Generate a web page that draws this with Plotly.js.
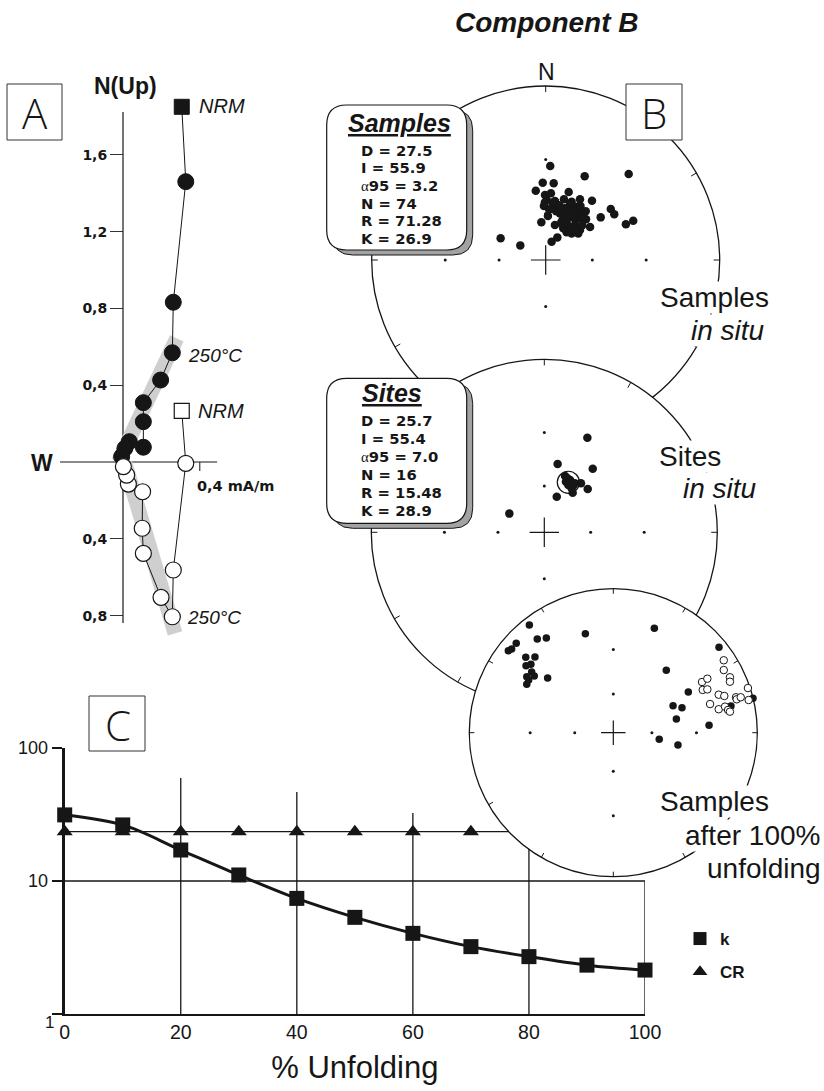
<!DOCTYPE html>
<html><head><meta charset="utf-8">
<script src="https://cdn.plot.ly/plotly-3.0.1.min.js"></script>
<style>html,body{margin:0;padding:0;background:#fff}#chart{width:824px;height:1091px}</style>
</head><body><div id="chart"></div>
<script>
// ================= DATA =================
// Panel A – Zijderveld diagram (mA/m)
const horizE  = [0.306, 0.327, 0.262, 0.257, 0.196, 0.106, 0.106, 0.106, 0.033, 0.010, -0.007];
const horizN  = [1.85, 1.46, 0.832, 0.569, 0.427, 0.309, 0.210, 0.077, 0.106, 0.071, 0.028];
const vertE   = [0.306, 0.327, 0.262, 0.257, 0.198, 0.106, 0.100, 0.102, 0.028, 0.019, 0.002];
const vertUp  = [0.266, -0.007, -0.5625, -0.806, -0.705, -0.476, -0.345, -0.155, -0.115, -0.068, -0.024];
const fitHorizE = [-0.024, 0.280], fitHorizN = [0.0, 0.644];
const fitVertE  = [0.010, 0.271],  fitVertUp = [-0.007, -0.892];
const zijTickVals = [-0.8, -0.4, 0.4, 0.8, 1.2, 1.6];
const zijTickText = ['0,8', '0,4', '0,4', '0,8', '1,2', '1,6'];

// Panel C – fold test
const unfoldPct = [0, 10, 20, 30, 40, 50, 60, 70, 80, 90, 100];
const kValues   = [31.4, 26.4, 17.1, 11.1, 7.4, 5.33, 4.04, 3.21, 2.70, 2.33, 2.14];
const crValues  = [23.5, 23.5, 23.5, 23.5, 23.5, 23.5, 23.5, 23.5, 23.5, 23.5, 23.5];
const gridPct   = [20, 40, 60, 80];
const gridTop   = [59.5, 46.7, 32.5, 24];
const xTicks    = [0, 20, 40, 60, 80, 100];

// Panel B – stereonets (projected coordinates, unit = net radius; E, N)
const samplesE = [0.026,0.224,0.477,-0.017,0.046,-0.057,0.132,-0.004,0.030,0.006,0.053,0.105,0.197,0.266,-0.010,0.034,0.072,0.149,0.092,0.140,0.178,0.207,0.374,0.394,0.316,0.013,-0.025,0.053,0.101,0.121,0.159,0.197,0.232,0.101,0.149,0.197,0.255,0.149,0.187,0.461,0.503,0.067,0.034,-0.259,-0.146,0.082,0.130,0.168,0.111,0.168,0.120,0.140,0.170,0.185,0.130,0.110,0.155,0.180,0.090,0.160,0.210,0.120,0.060,0.040,0.020,0.200,0.175,0.080,0.230,0.140,0.100,0.215,-0.005];
const samplesN = [0.540,0.481,0.494,0.444,0.441,0.398,0.391,0.374,0.383,0.345,0.339,0.349,0.349,0.341,0.310,0.297,0.316,0.335,0.278,0.297,0.306,0.278,0.293,0.263,0.245,0.253,0.217,0.201,0.240,0.211,0.249,0.240,0.234,0.182,0.172,0.172,0.190,0.153,0.153,0.205,0.226,0.130,0.105,0.125,0.084,0.268,0.268,0.268,0.297,0.201,0.230,0.250,0.230,0.190,0.190,0.260,0.280,0.250,0.220,0.185,0.200,0.160,0.280,0.330,0.290,0.310,0.165,0.310,0.280,0.320,0.200,0.245,0.330];
const sitesE = [0.249,0.077,0.280,0.133,0.125,0.139,0.149,0.212,0.177,0.164,0.251,0.072,-0.202,0.158,0.120,0.166];
const sitesN = [0.547,0.395,0.368,0.312,0.292,0.273,0.302,0.283,0.283,0.229,0.250,0.206,0.108,0.254,0.325,0.268];
const sitesMeanE = 0.139, sitesMeanN = 0.289, sitesA95 = 0.064;
const unfoldFillE = [-0.583,-0.194,-0.528,-0.465,-0.674,-0.706,-0.729,-0.608,-0.544,-0.572,-0.606,-0.567,-0.549,-0.601,-0.588,-0.601,-0.456,0.285,0.734,0.368,0.521,0.415,0.477,0.438,0.665,0.319,0.449,0.817,0.970];
const unfoldFillN = [0.748,0.688,0.651,0.658,0.621,0.581,0.569,0.524,0.526,0.475,0.465,0.422,0.394,0.389,0.366,0.336,0.380,0.725,0.593,0.433,0.283,0.188,0.174,0.095,0.051,-0.046,-0.085,0.185,0.239];
const unfoldOpenE = [0.767,0.767,0.616,0.653,0.621,0.653,0.810,0.810,0.935,0.732,0.771,0.672,0.732,0.776,0.797,0.810,0.852,0.857,0.885,0.940];
const unfoldOpenN = [0.503,0.435,0.352,0.375,0.297,0.301,0.385,0.354,0.310,0.264,0.255,0.199,0.163,0.181,0.158,0.146,0.246,0.232,0.246,0.227];

const samplesStats = ['D = 27.5', 'I = 55.9', 'α95 = 3.2', 'N = 74', 'R = 71.28', 'K = 26.9'];
const sitesStats   = ['D = 25.7', 'I = 55.4', 'α95 = 7.0', 'N = 16', 'R = 15.48', 'K = 28.9'];

// ================= LAYOUT HELPERS =================
const W = 824, H = 1091;
const INK = '#161616';
const FONT = 'Liberation Sans, Arial, Helvetica, sans-serif';
const BOLDF = 'DejaVu Sans, Verdana, sans-serif';
function xdom(a, b) { return [a / W, b / W]; }
function ydom(top, bottom) { return [1 - bottom / H, 1 - top / H]; }

const traces = [];
const shapes = [];
const annotations = [];
function ann(x, y, text, font, extra) {
  annotations.push(Object.assign({xref: 'x6', yref: 'y6', x: x, y: y, text: text, showarrow: false,
    xanchor: 'center', yanchor: 'middle', font: Object.assign({family: FONT, color: INK}, font)}, extra || {}));
}

// ================= PANEL C =================
const lineStyle = {color: INK, width: 1.3};
traces.push({x: [0, 100], y: [10, 10], xaxis: 'x', yaxis: 'y', mode: 'lines', line: lineStyle, showlegend: false, hoverinfo: 'skip'});
traces.push({x: [100, 100], y: [1, 10], xaxis: 'x', yaxis: 'y', mode: 'lines', line: lineStyle, showlegend: false, hoverinfo: 'skip'});
const gx = [], gy = [];
gridPct.forEach((p, i) => { gx.push(p, p, null); gy.push(1, gridTop[i], null); });
traces.push({x: gx, y: gy, xaxis: 'x', yaxis: 'y', mode: 'lines', line: lineStyle, showlegend: false, hoverinfo: 'skip'});
traces.push({x: unfoldPct, y: crValues, xaxis: 'x', yaxis: 'y', mode: 'lines+markers', cliponaxis: false,
  line: {color: INK, width: 1.3}, marker: {symbol: 'triangle-up', size: 14, color: INK, opacity: 1}, showlegend: false});
traces.push({x: unfoldPct, y: kValues, xaxis: 'x', yaxis: 'y', mode: 'lines+markers', cliponaxis: false,
  line: {color: INK, width: 3, shape: 'spline', smoothing: 1}, marker: {symbol: 'square', size: 15, color: INK, opacity: 1}, showlegend: false});
traces.push({x: [null], y: [null], xaxis: 'x', yaxis: 'y', name: 'k', legendgroup: 'k', mode: 'markers',
  marker: {symbol: 'square', size: 13, color: INK}});
traces.push({x: [null], y: [null], xaxis: 'x', yaxis: 'y', name: 'CR', legendgroup: 'cr', mode: 'markers',
  marker: {symbol: 'triangle-up', size: 13, color: INK}});

// ================= PANEL A =================
traces.push({x: fitHorizE, y: fitHorizN, xaxis: 'x2', yaxis: 'y2', mode: 'lines', line: {color: '#cfcfcf', width: 15}, showlegend: false, hoverinfo: 'skip'});
traces.push({x: fitVertE, y: fitVertUp, xaxis: 'x2', yaxis: 'y2', mode: 'lines', line: {color: '#cfcfcf', width: 15}, showlegend: false, hoverinfo: 'skip'});
const symA = horizE.map((v, i) => i === 0 ? 'square' : 'circle');
const sizeA = horizE.map((v, i) => i === 0 ? 15 : 16);
traces.push({x: horizE, y: horizN, xaxis: 'x2', yaxis: 'y2', mode: 'lines+markers', cliponaxis: false,
  line: {color: INK, width: 1}, marker: {symbol: symA, size: sizeA, color: INK, opacity: 1, line: {color: INK, width: 1}}, showlegend: false});
traces.push({x: vertE, y: vertUp, xaxis: 'x2', yaxis: 'y2', mode: 'lines+markers', cliponaxis: false,
  line: {color: INK, width: 1}, marker: {symbol: symA, size: sizeA, color: '#fff', opacity: 1, line: {color: INK, width: 1.2}}, showlegend: false});
// partial axes of the Zijderveld diagram
shapes.push({type: 'line', xref: 'x2', yref: 'y2', x0: 0, x1: 0, y0: -0.839, y1: 1.823, line: {color: INK, width: 1.2}, layer: 'below'});
shapes.push({type: 'line', xref: 'x2', yref: 'y2', x0: -0.328, x1: 0.49, y0: 0, y1: 0, line: {color: INK, width: 1.2}, layer: 'below'});
shapes.push({type: 'line', xref: 'x2', yref: 'y2', x0: 0.4, x1: 0.4, y0: 0, y1: -0.047, line: {color: INK, width: 1}, layer: 'below'});

// ================= PANEL B (stereonets) =================
const nets = [
  {cx: 545.7, cy: 260.0, R: 174, ax: 3},
  {cx: 544.3, cy: 532.3, R: 173, ax: 4},
  {cx: 613.3, cy: 732.7, R: 144, ax: 5}
];
const PAD = 1.05;
const gridR = [Math.tan(15 * Math.PI / 180), Math.tan(30 * Math.PI / 180)];
const axesDef = {};
nets.forEach(n => {
  const xr = 'x' + n.ax, yr = 'y' + n.ax;
  axesDef['xaxis' + n.ax] = {domain: xdom(n.cx - PAD * n.R, n.cx + PAD * n.R), range: [-PAD, PAD], visible: false, anchor: yr, fixedrange: true};
  axesDef['yaxis' + n.ax] = {domain: ydom(n.cy - PAD * n.R, n.cy + PAD * n.R), range: [-PAD, PAD], visible: false, anchor: xr, fixedrange: true};
  shapes.push({type: 'circle', xref: xr, yref: yr, x0: -1, x1: 1, y0: -1, y1: 1, fillcolor: '#fff', line: {color: INK, width: 1.3}, layer: 'below'});
  for (let a = 0; a < 360; a += 30) {
    const s = Math.sin(a * Math.PI / 180), c = Math.cos(a * Math.PI / 180);
    shapes.push({type: 'line', xref: xr, yref: yr, x0: s, y0: c, x1: 0.965 * s, y1: 0.965 * c, line: {color: INK, width: 1}, layer: 'below'});
  }
  shapes.push({type: 'line', xref: xr, yref: yr, x0: -0.085, x1: 0.085, y0: 0, y1: 0, line: {color: INK, width: 1.2}, layer: 'below'});
  shapes.push({type: 'line', xref: xr, yref: yr, x0: 0, x1: 0, y0: -0.085, y1: 0.085, line: {color: INK, width: 1.2}, layer: 'below'});
  const dx = [], dy = [];
  gridR.forEach(r => { dx.push(r, -r, 0, 0); dy.push(0, 0, r, -r); });
  traces.push({x: dx, y: dy, xaxis: xr, yaxis: yr, mode: 'markers', marker: {size: 3, color: INK}, showlegend: false, hoverinfo: 'skip'});
});
// alpha95 circle of site mean
shapes.push({type: 'circle', xref: 'x4', yref: 'y4', x0: sitesMeanE - sitesA95, x1: sitesMeanE + sitesA95,
  y0: sitesMeanN - sitesA95, y1: sitesMeanN + sitesA95, line: {color: INK, width: 1.2}, layer: 'below'});

traces.push({x: samplesE, y: samplesN, xaxis: 'x3', yaxis: 'y3', mode: 'markers', marker: {size: 8.5, color: INK, opacity: 1}, showlegend: false});
traces.push({x: sitesE, y: sitesN, xaxis: 'x4', yaxis: 'y4', mode: 'markers', marker: {size: 8.5, color: INK, opacity: 1}, showlegend: false});
traces.push({x: unfoldFillE, y: unfoldFillN, xaxis: 'x5', yaxis: 'y5', mode: 'markers', marker: {size: 7.5, color: INK, opacity: 1}, showlegend: false});
traces.push({x: unfoldOpenE, y: unfoldOpenN, xaxis: 'x5', yaxis: 'y5', mode: 'markers', marker: {size: 7.5, color: '#fff', opacity: 1, line: {color: INK, width: 1}}, showlegend: false});

// ================= BOXES (pixel overlay) =================
function roundRect(x0, y0, x1, y1, r) {
  return `M${x0 + r},${y0} L${x1 - r},${y0} Q${x1},${y0} ${x1},${y0 + r} L${x1},${y1 - r} Q${x1},${y1} ${x1 - r},${y1} ` +
         `L${x0 + r},${y1} Q${x0},${y1} ${x0},${y1 - r} L${x0},${y0 + r} Q${x0},${y0} ${x0 + r},${y0} Z`;
}
function statBox(x0, y0, x1, y1) {
  shapes.push({type: 'path', xref: 'x6', yref: 'y6', path: roundRect(x0 + 6, y0 + 5, x1 + 6, y1 + 5, 20), fillcolor: '#a3a3a3', line: {color: INK, width: 1}, layer: 'above'});
  shapes.push({type: 'path', xref: 'x6', yref: 'y6', path: roundRect(x0, y0, x1, y1, 20), fillcolor: '#fff', line: {color: INK, width: 1.2}, layer: 'above'});
}
statBox(326.7, 105, 466.7, 250);
statBox(326.7, 378.3, 466.7, 523.3);
function letterBox(x0, y0, x1, y1) {
  shapes.push({type: 'rect', xref: 'x6', yref: 'y6', x0: x0, x1: x1, y0: y0, y1: y1, fillcolor: '#fff', line: {color: '#333', width: 1}, layer: 'above'});
}
letterBox(7, 84, 62, 140);
letterBox(626, 84, 682, 140);
letterBox(89, 696, 145, 751);

// ================= TEXT =================
const LETTER = {family: 'Open Sans, Liberation Sans, sans-serif', size: 42, weight: 300};
ann(35, 112, 'A', LETTER);
ann(654, 112, 'B', LETTER);
ann(117.5, 724, 'C', LETTER);

ann(546.7, 22, 'Component B', {size: 28, weight: 'bold', style: 'italic'});
ann(546, 72, 'N', {size: 23});

ann(399.5, 123, 'Samples', {size: 25, weight: 'bold', style: 'italic', lineposition: 'under'});
ann(391.7, 393, 'Sites', {size: 25, weight: 'bold', style: 'italic', lineposition: 'under'});
function statLine(s) {
  return s.replace('α', '<span style="font-family:\'Liberation Serif\',serif;font-weight:normal">α</span>');
}
samplesStats.forEach((s, i) => ann(359, 150 + i * 17.7, statLine(s), {family: BOLDF, size: 14.8, weight: 'bold'}, {xanchor: 'left'}));
sitesStats.forEach((s, i) => ann(359, 420 + i * 18.1, statLine(s), {family: BOLDF, size: 14.8, weight: 'bold'}, {xanchor: 'left'}));

const BG = {bgcolor: '#fff', borderpad: 0};
ann(714, 297, 'Samples', {size: 28}, BG);
ann(728, 330, 'in situ', {size: 28, style: 'italic'}, BG);
ann(690, 456, 'Sites', {size: 28}, BG);
ann(720, 488, 'in situ', {size: 28, style: 'italic'}, BG);
ann(714, 801.5, 'Samples', {size: 28}, BG);
ann(752, 835, 'after 100%', {size: 28}, BG);
ann(764, 868, 'unfolding', {size: 28}, BG);

// Panel A labels
ann(125, 86, 'N(Up)', {size: 23, weight: 'bold'});
ann(41.7, 463, 'W', {size: 23, weight: 'bold'});
ann(195, 486, '0,4 mA/m', {family: BOLDF, size: 14.5, weight: 'bold'}, {xanchor: 'left'});
ann(196.5, 106, 'NRM', {size: 20, style: 'italic'}, {xanchor: 'left'});
ann(196, 411, 'NRM', {size: 20, style: 'italic'}, {xanchor: 'left'});
ann(186, 355, '250°C', {size: 19, style: 'italic'}, {xanchor: 'left'});
ann(184.5, 617, '250°C', {size: 19, style: 'italic'}, {xanchor: 'left'});

// Panel C: lowest y tick label (offset downwards like the original)
ann(56, 1022, '1', {size: 17}, {xanchor: 'right'});

// ================= LAYOUT =================
const layout = Object.assign({
  width: W, height: H, margin: {l: 0, r: 0, t: 0, b: 0},
  paper_bgcolor: '#fff', plot_bgcolor: 'rgba(0,0,0,0)',
  hovermode: false, showlegend: true,
  font: {family: FONT, color: INK},
  legend: {x: 680 / W, y: 1 - 921 / H, xanchor: 'left', yanchor: 'top', bgcolor: 'rgba(0,0,0,0)',
    font: {size: 17, weight: 'bold', family: FONT, color: INK}, traceorder: 'grouped', tracegroupgap: 8, itemwidth: 30},
  xaxis: {domain: xdom(64.7, 645), range: [0, 100], anchor: 'y', fixedrange: true,
    tickvals: xTicks, ticks: '', showline: true, linewidth: 2, linecolor: INK, showgrid: false, zeroline: false,
    tickfont: {size: 19.5, color: INK, family: FONT},
    title: {text: '% Unfolding', font: {size: 31, family: FONT, color: INK}, standoff: 14}},
  yaxis: {domain: ydom(748, 1014), type: 'log', range: [0, 2], anchor: 'x', fixedrange: true,
    tickvals: [1, 10, 100], ticktext: ['', '10', '100'], ticks: 'outside', ticklen: 10, tickwidth: 1.3, tickcolor: INK,
    showline: true, linewidth: 3, linecolor: INK, showgrid: false, zeroline: false,
    tickfont: {size: 18, color: INK, family: FONT}},
  xaxis2: {domain: xdom(46.2, 238.2), range: [-0.4, 0.6], visible: false, anchor: 'y2', fixedrange: true},
  yaxis2: {domain: ydom(78, 654), range: [-1, 2], anchor: 'free', position: 123 / W, side: 'left', fixedrange: true,
    tickvals: zijTickVals, ticktext: zijTickText, ticks: 'outside', ticklen: 13, tickwidth: 1, tickcolor: '#333',
    showline: false, showgrid: false, zeroline: false,
    tickfont: {family: BOLDF, size: 14, weight: 'bold', color: INK}},
  xaxis6: {domain: [0, 1], range: [0, W], visible: false, anchor: 'y6', fixedrange: true},
  yaxis6: {domain: [0, 1], range: [H, 0], visible: false, anchor: 'x6', fixedrange: true},
  shapes: shapes, annotations: annotations
}, axesDef);

Plotly.newPlot('chart', traces, layout, {staticPlot: true, displayModeBar: false});
</script>
</body></html>
